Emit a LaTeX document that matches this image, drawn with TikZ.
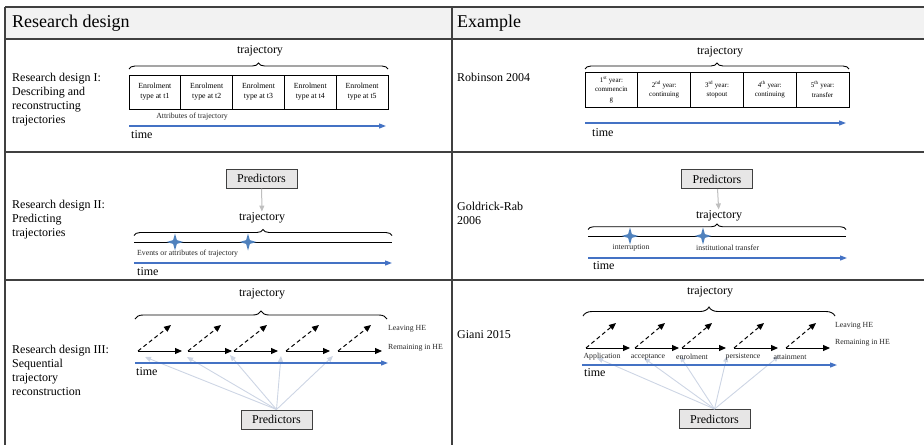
\documentclass[tikz,border=0pt]{standalone}
\usepackage{fontspec}
\setmainfont{Liberation Serif}
\usetikzlibrary{positioning,arrows.meta,decorations.pathreplacing,shapes.geometric}

\definecolor{timeblue}{HTML}{4472C4}
\definecolor{starblue}{HTML}{4F81BD}
\definecolor{linegray}{HTML}{404040}
\definecolor{headgray}{HTML}{F2F2F2}
\definecolor{predgray}{HTML}{E7E6E6}
\definecolor{arrgray}{HTML}{BFBFBF}
\definecolor{arrlight}{HTML}{CDD5E4}

\newcommand{\mainsize}{\fontsize{12}{14}\selectfont}
\newcommand{\smallsize}{\fontsize{7.8}{10}\selectfont}
\newcommand{\tinysize}{\fontsize{7}{9.5}\selectfont}

\tikzset{
  tabline/.style={draw=linegray,line width=1.5pt},
  lab/.style={anchor=west,align=left,inner sep=0pt,font=\mainsize},
  txt/.style={inner sep=1pt,font=\mainsize},
  small/.style={inner sep=1pt,font=\smallsize,text=black!85},
  enr/.style={draw,line width=1pt,outer sep=0pt,minimum width=51.8pt,minimum height=34pt,inner sep=0pt,align=center,font=\smallsize},
  yr/.style={enr,minimum width=52.8pt,minimum height=35pt,font=\tinysize},
  timeline/.style={draw=timeblue,line width=1.2pt,-{Triangle[length=7pt,width=5pt]}},
  traj/.style={decorate,decoration={brace,amplitude=#1},line width=0.9pt},
  pred/.style={draw=linegray,fill=predgray,line width=1pt,minimum width=71pt,minimum height=19pt,inner sep=0pt,font=\mainsize},
  event/.style={star,star points=4,star point ratio=3.2,fill=starblue,minimum size=17pt,inner sep=0pt},
  stayarrow/.style={line width=1pt,-{Triangle[length=7pt,width=6pt]}},
  leavearrow/.style={stayarrow,dash pattern=on 4pt off 3pt},
  predarrow/.style={draw=arrgray,line width=1pt,-{Triangle[length=6pt,width=5pt]}},
  predlight/.style={draw=arrlight,line width=0.9pt,-{Triangle[length=6pt,width=5pt]}}
}

\begin{document}
\begin{tikzpicture}[x=1pt,y=-1pt]
\useasboundingbox (0,0) rectangle (924,445);

% table
\fill[headgray] (5,7) rectangle (924,39);
\draw[tabline] (5,7) -- (924,7) (5,39) -- (924,39) (5,152) -- (924,152) (5,280) -- (924,280)
  (5,7) -- (5,445) (452,7) -- (452,445);
\node[lab,font=\fontsize{18}{20}\selectfont] (hd1) at (12,23) {Research design};
\node[lab,font=\fontsize{18}{20}\selectfont] (hd2) at (457,23) {Example};

\node[lab] (d1) at (12,100) {Research design I:\\Describing and\\reconstructing\\trajectories};
\node[lab] (x1) at (457,77) {Robinson 2004};
\node[lab] (d2) at (12,220) {Research design II:\\Predicting\\trajectories};
\node[lab] (x2) at (457,213.5) {Goldrick-Rab\\2006};
\node[lab] (d3) at (12,370.5) {Research design III:\\Sequential\\trajectory\\reconstruction};
\node[lab] (x3) at (457,335) {Giani 2015};

% design I
\node[txt] (tr1) at (260,51) {trajectory};
\foreach \i in {1,...,5}
  \node[enr] (e\i) at ({129+51.8*(\i-0.5)},92) {Enrolment\\type at t\i};
\draw[traj=6pt] ([yshift=6pt]e1.north west) -- ([yshift=6pt]e5.north east);
\node[small] (at1) at (192,117) {Attributes of trajectory};
\coordinate (t1a) at (129,126);
\coordinate (t1b) at (386,126);
\draw[timeline] (t1a) -- (t1b);
\node[lab] (ti1) at (131,135) {time};

% Robinson 2004
\node[txt] (tr4) at (720,52) {trajectory};
\node[yr] (y1) at (611.4,89.5) {1\textsuperscript{st} year:\\commencin\\g};
\node[yr,right=0pt of y1] (y2) {2\textsuperscript{nd} year:\\continuing};
\node[yr,right=0pt of y2] (y3) {3\textsuperscript{rd} year:\\stopout};
\node[yr,right=0pt of y3] (y4) {4\textsuperscript{th} year:\\continuing};
\node[yr,right=0pt of y4] (y5) {5\textsuperscript{th} year:\\transfer};
\draw[traj=6pt] ([yshift=3pt]y1.north west) -- ([yshift=3pt]y5.north east);
\coordinate (t4a) at (585,123);
\coordinate (t4b) at (846,123);
\draw[timeline] (t4a) -- (t4b);
\node[lab] (ti4) at (592,133) {time};

% design II
\node[pred] (p2) at (261.5,178.5) {Predictors};
\node[txt] (tr2) at (262,218) {trajectory};
\draw[predarrow] (p2) -- (tr2);
\coordinate (l2a) at (134,242);
\coordinate (l2b) at (392,242);
\draw[traj=6pt] ([yshift=6.5pt]l2a) -- ([yshift=6.5pt]l2b);
\draw[line width=1pt] (l2a) -- (l2b);
\node[event] (ev1) at (175,242) {};
\node[event] (ev2) at (248,242) {};
\node[small,anchor=west] (ea2) at (136,254) {Events or attributes of trajectory};
\coordinate (t2a) at (134,263);
\coordinate (t2b) at (392,263);
\draw[timeline] (t2a) -- (t2b);
\node[lab] (ti2) at (137,272) {time};

% Goldrick-Rab 2006
\node[pred] (p5) at (717,179) {Predictors};
\node[txt] (tr5) at (719,216) {trajectory};
\draw[predarrow] (p5) -- (tr5);
\coordinate (l5a) at (588,236);
\coordinate (l5b) at (846,236);
\draw[traj=5.5pt] ([yshift=6.5pt]l5a) -- ([yshift=6.5pt]l5b);
\draw[line width=1pt] (l5a) -- (l5b);
\node[event] (ev3) at (630,236) {};
\node[event] (ev4) at (703,236) {};
\node[small] (ev3l) at (631,248) {interruption};
\node[small,anchor=west] (ev4l) at (695,248) {institutional transfer};
\coordinate (t5a) at (588,258);
\coordinate (t5b) at (847,258);
\draw[timeline] (t5a) -- (t5b);
\node[lab] (ti5) at (593,266) {time};

% design III
\node[txt] (tr3) at (262,294) {trajectory};
\draw[traj=8pt] (135,319) -- (387,319);
\foreach \x [count=\i] in {138,188,234,286,338} {
  \coordinate (a\i) at (\x,351);
  \coordinate (b\i) at (\x+44,351);
  \coordinate (c\i) at (\x+33,325);
  \draw[stayarrow] (a\i) -- (b\i);
  \draw[leavearrow] (a\i) -- (c\i);
}
\node[small,anchor=west] (lv3) at (387,329) {Leaving HE};
\node[small,anchor=west] (rm3) at (387,348) {Remaining in HE};
\node[pred] (p3) at (276.5,419.5) {Predictors};
\foreach \x/\y [count=\i] in {145/357,187/357,230/355,281/356,333/356} {
  \coordinate (g\i) at (\x,\y);
  \draw[predlight] (p3.north) -- (g\i);
}
\coordinate (t3a) at (135,363);
\coordinate (t3b) at (388,363);
\draw[timeline] (t3a) -- (t3b);
\node[lab] (ti3) at (136,372) {time};

% Giani 2015
\node[txt] (tr6) at (710,292) {trajectory};
\draw[traj=9pt] (583,316) -- (835,316);
\foreach \x [count=\i] in {586,635,682,734,786} {
  \coordinate (m\i) at (\x,348);
  \coordinate (n\i) at (\x+44,348);
  \coordinate (o\i) at (\x+30,323);
  \draw[stayarrow] (m\i) -- (n\i);
  \draw[leavearrow] (m\i) -- (o\i);
}
\node[small,anchor=west] (lv6) at (834,326) {Leaving HE};
\node[small,anchor=west] (rm6) at (834,343) {Remaining in HE};
\node[pred] (p6) at (714.5,419) {Predictors};
\foreach \x/\y [count=\i] in {597/358,644/358,680/356,727/356,779/356} {
  \coordinate (h\i) at (\x,\y);
  \draw[predlight] (p6.north) -- (h\i);
}
\node[small] (s1) at (602,357) {Application};
\node[small] (s2) at (648,357) {acceptance};
\node[small] (s3) at (692,357) {enrolment};
\node[small] (s4) at (743,357) {persistence};
\node[small] (s5) at (790,357) {attainment};
\coordinate (t6a) at (582,365);
\coordinate (t6b) at (837,365);
\draw[timeline] (t6a) -- (t6b);
\node[lab] (ti6) at (584,373) {time};
\end{tikzpicture}
\end{document}
